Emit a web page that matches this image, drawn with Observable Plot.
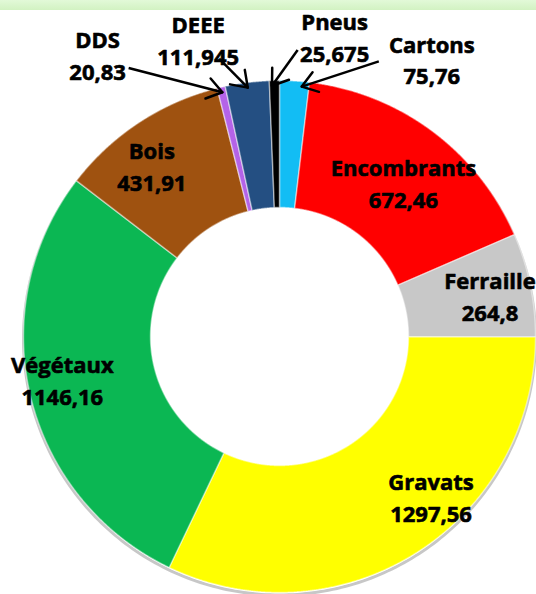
<!DOCTYPE html>
<html><head><meta charset="utf-8">
<script src="https://cdn.jsdelivr.net/npm/d3@7"></script>
<script src="https://cdn.jsdelivr.net/npm/@observablehq/plot@0.6"></script>
<style>
body{margin:0;background:#fff;font-family:"Open Sans",sans-serif;position:relative;}
#band{position:absolute;left:0;top:0;width:536px;height:10px;background:linear-gradient(#e2f9d8,#d2f2c2);}
#chart{position:relative;}
#chart svg{display:block;background:transparent;}
</style></head><body>
<div id="band"></div>
<div id="chart"></div>
<script>
// ---- data ----
const categories = ["Cartons","Encombrants","Ferraille","Gravats","Végétaux","Bois","DDS","DEEE","Pneus"];
const values = [75.76, 672.46, 264.8, 1297.56, 1146.16, 431.91, 20.83, 111.945, 25.675];
const valueLabels = ["75,76","672,46","264,8","1297,56","1146,16","431,91","20,83","111,945","25,675"];
const sliceColors = ["#12bdf4","#ff0000","#c8c8c8","#ffff00","#0bb753","#9f5210","#b463e8","#244f82","#000000"];
const outsideLabels = ["Cartons","Pneus","DEEE","DDS"];

// ---- layout (pixels) ----
const W = 536, H = 594, PX = 256;          // 1 data unit = outer radius = 256px
const CX = 279, CY = 336;
const innerR = 129 / PX;
const labelNudge = {
  "Cartons": [141, -86], "Encombrants": [9, 0], "Ferraille": [22, -3], "Gravats": [49, -4],
  "Végétaux": [-30, -3], "Bois": [-22, -11], "DDS": [-138, -95], "DEEE": [-57, -107], "Pneus": [59, -108]
};
const arrowStart = {"Cartons": [-53, 3], "Pneus": [-37, 14], "DEEE": [21, 20], "DDS": [31, 14]};
const tipShift = {"Cartons": 0.03, "Pneus": -0.01, "DEEE": 0, "DDS": 0};

const pie = d3.pie().sort(null).startAngle(0).endAngle(2 * Math.PI)(values);
const pt = (a, r) => ({x: r * Math.sin(a), y: r * Math.cos(a)});

const slices = [];
pie.forEach((p, i) => {
  const n = Math.max(2, Math.ceil((p.endAngle - p.startAngle) / 0.004));
  const pts = [];
  for (let k = 0; k <= n; k++) pts.push(pt(p.startAngle + (p.endAngle - p.startAngle) * k / n, 1));
  for (let k = n; k >= 0; k--) pts.push(pt(p.startAngle + (p.endAngle - p.startAngle) * k / n, innerR));
  pts.push(pts[0]);
  pts.forEach(q => slices.push({...q, name: categories[i], color: sliceColors[i]}));
});

const ring = d3.range(0, 361).map(d => pt(d * Math.PI / 180, 1));

const rMid = (1 + innerR) / 2;
const labels = pie.map((p, i) => {
  const a = (p.startAngle + p.endAngle) / 2;
  const base = pt(a, rMid);
  const [nx, ny] = labelNudge[categories[i]];
  return {name: categories[i], a, x: base.x + nx / PX, y: base.y - ny / PX, text: categories[i] + "\n" + valueLabels[i]};
});

const shafts = [], heads = [];
labels.filter(d => outsideLabels.includes(d.name)).forEach(d => {
  const [sx, sy] = arrowStart[d.name];
  const x1 = d.x + sx / PX, y1 = d.y - sy / PX;
  const tip = pt(d.a + tipShift[d.name], 0.98);
  shafts.push({x1, y1, x2: tip.x, y2: tip.y});
  const dx = x1 - tip.x, dy = y1 - tip.y, L = Math.hypot(dx, dy);
  const ux = dx / L, uy = dy / L, hl = 18 / PX;
  for (const s of [-1, 1]) {
    const t = s * 35 * Math.PI / 180;
    heads.push({x1: tip.x, y1: tip.y,
      x2: tip.x + hl * (ux * Math.cos(t) - uy * Math.sin(t)),
      y2: tip.y + hl * (ux * Math.sin(t) + uy * Math.cos(t))});
  }
});

const chart = Plot.plot({
  width: W, height: H, margin: 0,
  x: {domain: [-CX / PX, (W - CX) / PX], axis: null},
  y: {domain: [-(H - CY) / PX, CY / PX], axis: null},
  color: {type: "identity"},
  style: {background: "transparent"},
  marks: [
    Plot.line(ring, {x: "x", y: "y", stroke: "#000", strokeOpacity: 0.22, strokeWidth: 3, dy: 2.5}),
    Plot.line(slices, {x: "x", y: "y", z: "name", fill: "color", stroke: "white", strokeOpacity: 0.45, strokeWidth: 1.5, strokeLinejoin: "round"}),
    Plot.link(shafts, {x1: "x1", y1: "y1", x2: "x2", y2: "y2", stroke: "black", strokeWidth: 2.5}),
    Plot.link(heads, {x1: "x1", y1: "y1", x2: "x2", y2: "y2", stroke: "black", strokeWidth: 2.5, strokeLinecap: "round"}),
    Plot.text(labels, {x: "x", y: "y", text: "text", fontSize: 22, fontWeight: "bold", fontFamily: "Open Sans", lineHeight: 1.45, fill: "black", stroke: "black", strokeWidth: 0.6})
  ]
});
document.getElementById("chart").appendChild(chart);
</script></body></html>
